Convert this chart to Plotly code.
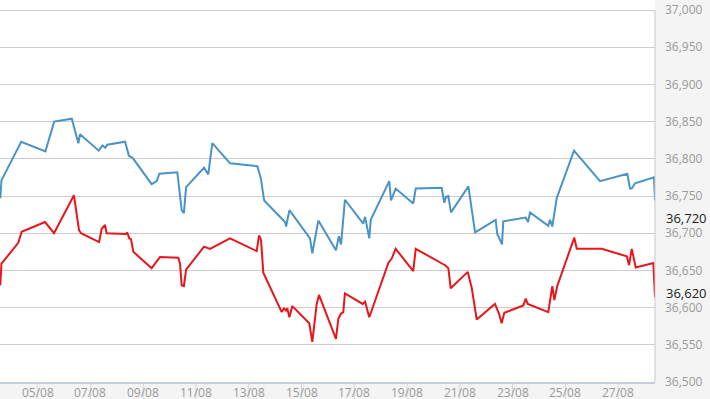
import plotly.graph_objects as go
import pandas as pd

blue_times = ["03 14:00","03 15:00","04 09:00","05 07:00","05 15:00","06 07:00","06 13:00","06 14:30",
"07 07:30","07 11:00","07 13:30","07 15:20","08 07:30","08 11:00","08 14:30","09 07:40","09 12:20","09 14:40",
"10 07:00","10 11:00","10 13:00","10 15:00","11 07:20","11 11:10","11 14:50","12 07:00","13 07:50","13 11:00",
"13 14:00","14 09:00","14 10:00","14 13:00","15 07:45","15 09:50","15 15:20","16 07:20","16 10:00","16 12:00",
"16 15:30","17 08:10","17 09:50","17 13:40","17 15:00","18 07:50","18 09:25","18 13:40","19 05:40","19 07:55",
"20 07:35","20 09:55","20 11:30","20 13:35","20 16:00","21 07:50","21 13:55","22 08:40","22 10:05","22 14:25",
"22 15:35","23 12:00","23 14:05","23 15:55","24 08:30","24 10:05","24 12:10","24 16:10","25 07:55","26 07:35",
"27 08:25","27 10:55","27 12:25","27 15:25","28 08:40","28 09:36"]
blue_values = [36747,36771,36823,36810,36850,36854,36821,36833,
36811,36818,36815,36819,36823,36804,36801,36766,36770,36780,
36782,36731,36727,36762,36788,36779,36821,36794,36790,36774,
36744,36715,36709,36731,36693,36673,36717,36677,36696,36685,
36745,36713,36722,36693,36718,36770,36744,36760,36740,36760,
36761,36741,36749,36750,36728,36763,36701,36718,36699,36685,
36716,36721,36715,36728,36710,36718,36709,36747,36811,36770,
36780,36760,36760,36767,36775,36744]

red_times = ["03 14:00","03 15:00","04 06:20","04 09:25","05 06:40","05 14:50","06 09:00","06 13:35","06 15:25",
"07 07:50","07 10:15","07 13:15","07 14:45","08 08:20","08 09:30","08 11:20","08 12:55","08 15:00","09 07:40",
"09 15:15","10 07:55","10 09:30","10 11:00","10 13:00","10 15:00","11 07:20","11 12:45","12 07:00","13 07:15",
"13 09:20","13 11:10","13 13:15","14 06:00","14 08:05","14 09:55","14 11:05","14 12:55","14 15:40","15 07:05",
"15 09:50","15 13:50","15 15:55","16 07:20","16 09:30","16 12:00","16 14:00","16 15:30","17 07:40","17 09:50",
"17 13:40","18 07:00","18 10:05","18 13:40","19 05:40","19 07:55","20 10:35","20 13:35","20 15:45","21 07:15",
"21 10:55","21 15:25","22 08:00","22 11:40","22 14:05","22 16:30","23 09:50","23 12:00","23 13:50","24 08:30",
"24 12:10","24 14:00","24 16:40","25 08:10","25 10:25","26 09:05","27 07:55","27 10:00","27 12:25","27 16:05",
"28 08:05","28 09:36"]
red_values = [36630,36659,36687,36702,36715,36700,36751,36704,36700,
36688,36706,36711,36700,36699,36701,36693,36692,36675,36653,
36668,36667,36659,36630,36629,36651,36682,36679,36693,36676,
36697,36691,36647,36594,36599,36596,36599,36587,36602,36579,
36554,36605,36617,36558,36585,36592,36594,36619,36605,36608,
36587,36660,36666,36679,36649,36679,36657,36653,36626,36648,
36626,36584,36605,36592,36579,36593,36603,36612,36605,36594,
36629,36610,36629,36694,36679,36679,36669,36657,36679,36654,
36660,36614]

y_ticks = list(range(36500, 37001, 50))
tick_dates = ["2024-08-%02d" % d for d in range(5, 28, 2)]
tick_labels = ["%02d/08" % d for d in range(5, 28, 2)]
last_labels = [36720, 36620]


def to_dt(ts):
    return pd.to_datetime(["2024-08-" + t for t in ts])


fig = go.Figure()
fig.add_trace(go.Scatter(x=to_dt(blue_times), y=blue_values, mode="lines",
                         line=dict(color="#4a93c6", width=2), hoverinfo="skip"))
fig.add_trace(go.Scatter(x=to_dt(red_times), y=red_values, mode="lines",
                         line=dict(color="#e8161b", width=2), hoverinfo="skip"))

# tick marks crossing the labels, and the labels themselves
for d, lab in zip(tick_dates, tick_labels):
    fig.add_shape(type="line", xref="x", yref="paper", x0=d, x1=d, y0=0, y1=-0.06,
                  line=dict(color="#cfd8e2", width=1), layer="above")
    fig.add_annotation(xref="x", yref="paper", x=d, y=0, yanchor="middle", yshift=-10,
                       text=lab, showarrow=False,
                       font=dict(family="Open Sans", size=12, color="#999999"))
# right border of plot
fig.add_shape(type="line", xref="paper", yref="y", x0=1, x1=1, y0=36500, y1=37000,
              line=dict(color="#c8c8c8", width=1))

for v in last_labels:
    fig.add_annotation(xref="paper", yref="y", x=1, y=v, text=f"{v:,}", showarrow=False,
                       xanchor="left", xshift=9, font=dict(family="Open Sans", size=13, color="#222222"))

fig.update_layout(
    width=710, height=399,
    margin=dict(l=0, r=55, t=0, b=17),
    paper_bgcolor="#f4f4f4", plot_bgcolor="#ffffff",
    showlegend=False,
    hovermode=False,
    font=dict(family="Open Sans", size=12, color="#999999"),
    xaxis=dict(range=["2024-08-03 13:42", "2024-08-28 09:36"], showgrid=False, zeroline=False,
               showticklabels=False, ticks="", showline=True,
               linecolor="#c3cedb", linewidth=1.5),
    yaxis=dict(range=[36500, 37013.5], side="right", tickvals=y_ticks, tickformat=",",
               showgrid=True, gridcolor="#cccccc", gridwidth=1, zeroline=False, ticks="",
               ticklabelstandoff=9, tickfont=dict(size=12, color="#999999")),
)

fig.write_html("out.html", config={"displayModeBar": False},
               post_script="document.body.style.margin='0';document.body.style.padding='0';")
